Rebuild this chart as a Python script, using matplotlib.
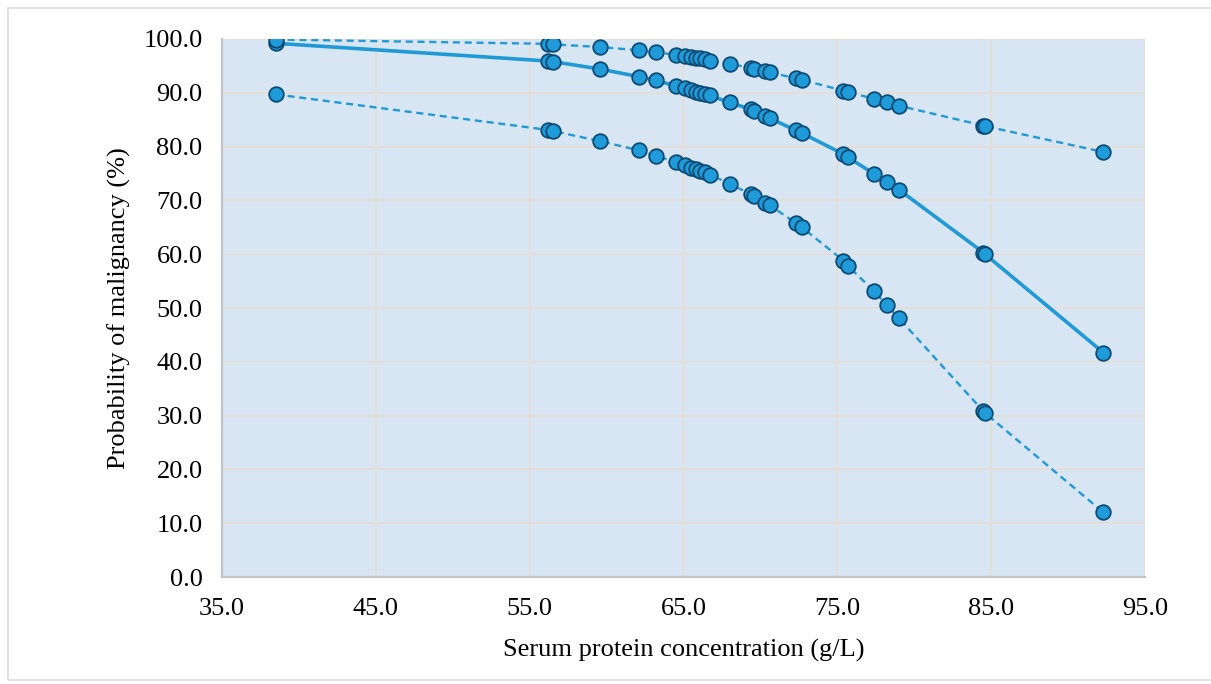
import matplotlib
matplotlib.use("Agg")
import matplotlib.pyplot as plt

protein = [38.5, 56.2, 56.5, 59.6, 62.1, 63.2, 64.5, 65.1, 65.5, 65.8, 66.1, 66.4, 66.7,
           68.0, 69.4, 69.6, 70.3, 70.6, 72.3, 72.7, 75.4, 75.7, 77.4, 78.2, 79.0,
           84.5, 84.6, 92.3]
upper = [99.9, 99.1, 99.0, 98.5, 97.9, 97.5, 97.1, 96.9, 96.7, 96.5, 96.4, 96.2, 96.0,
         95.4, 94.6, 94.5, 94.0, 93.8, 92.7, 92.4, 90.4, 90.1, 88.9, 88.3, 87.6,
         83.9, 83.8, 79.0]
estimate = [99.2, 95.9, 95.8, 94.4, 93.0, 92.3, 91.3, 90.9, 90.5, 90.2, 90.0, 89.7, 89.5,
            88.2, 86.9, 86.6, 85.6, 85.3, 83.0, 82.5, 78.6, 78.0, 74.9, 73.5, 72.0,
            60.3, 60.0, 41.7]
lower = [89.7, 83.1, 82.9, 81.0, 79.3, 78.3, 77.1, 76.5, 76.1, 75.8, 75.5, 75.2, 74.8,
         73.1, 71.1, 70.8, 69.6, 69.1, 65.8, 65.0, 58.8, 57.8, 53.1, 50.6, 48.1,
         30.8, 30.5, 12.0]

x_ticks = [35, 45, 55, 65, 75, 85, 95]
y_ticks = [0, 10, 20, 30, 40, 50, 60, 70, 80, 90, 100]

plt.rcParams['font.family'] = ['Liberation Serif', 'DejaVu Serif']

fig = plt.figure(figsize=(12.11, 6.84), dpi=100)
ax = fig.add_axes([0.1833, 0.1564, 0.7622, 0.7866])
ax.set_facecolor('#D8E6F3')

line_c = '#1F9AD6'
mface = '#1E9BD8'
medge = '#0C4A74'

ax.plot(protein, lower, color=line_c, lw=1.7, dashes=(3, 2), marker='o', ms=10.5,
        mfc=mface, mec=medge, mew=1.3, zorder=3)
ax.plot(protein, estimate, color=line_c, lw=2.6, marker='o', ms=10.5,
        mfc=mface, mec=medge, mew=1.3, zorder=4)
ax.plot(protein, upper, color=line_c, lw=1.7, dashes=(3, 2), marker='o', ms=10.5,
        mfc=mface, mec=medge, mew=1.3, zorder=5)

ax.set_xlim(35, 95)
ax.set_ylim(0, 100)
ax.set_xticks(x_ticks)
ax.set_yticks(y_ticks)
ax.set_xticklabels([f"{v:.1f}" for v in x_ticks])
ax.set_yticklabels([f"{v:.1f}" for v in y_ticks])
ax.tick_params(axis='both', length=0, labelsize=19, colors='black')
ax.tick_params(axis='y', pad=14)
ax.tick_params(axis='x', pad=15)
ax.grid(True, color='#E6DED6', lw=1.3)
ax.set_axisbelow(True)
for s in ['top', 'right']:
    ax.spines[s].set_visible(False)
for s in ['left', 'bottom']:
    ax.spines[s].set_color('#C4C4C4')
    ax.spines[s].set_linewidth(1.6)

ax.set_xlabel('Serum protein concentration (g/L)', fontsize=19, labelpad=14)
ax.set_ylabel('Probability of malignancy (%)', fontsize=19, labelpad=9)

border = plt.Rectangle((8 / 1211, 4 / 684), 1 - 8 / 1211 + 0.01, 1 - 12 / 684,
                       transform=fig.transFigure, fill=False, edgecolor='#DDDDDD',
                       lw=1.2)
fig.patches.append(border)

fig.savefig('out.png', dpi=100)
